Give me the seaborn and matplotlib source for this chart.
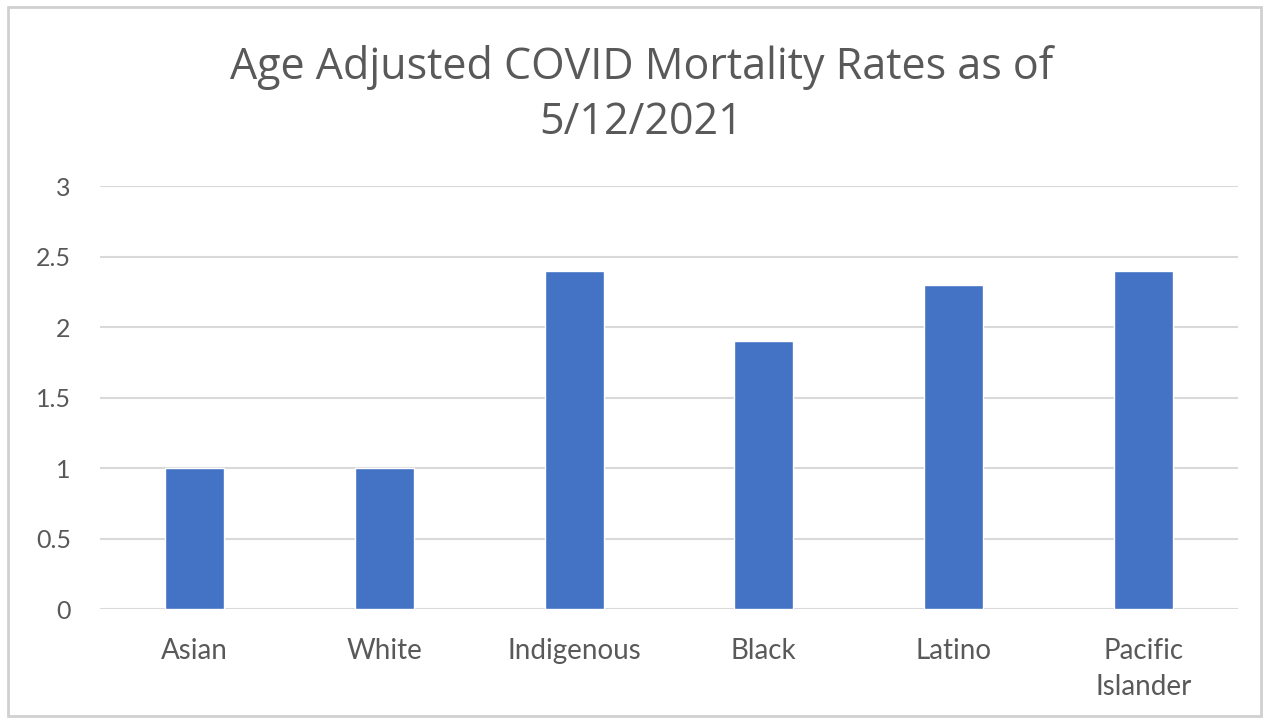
import matplotlib
matplotlib.use("Agg")
import matplotlib.pyplot as plt
import seaborn as sns
import pandas as pd
from matplotlib.patches import Rectangle

categories = ["Asian", "White", "Indigenous", "Black", "Latino", "Pacific\nIslander"]
rates = [1.0, 1.0, 2.4, 1.9, 2.3, 2.4]
yticks = [0, 0.5, 1, 1.5, 2, 2.5, 3]
ytick_labels = ["0", "0.5", "1", "1.5", "2", "2.5", "3"]
title = "Age Adjusted COVID Mortality Rates as of\n5/12/2021"

sns.set_theme(style="white")
plt.rcParams['font.family'] = ['Lato', 'DejaVu Sans']

df = pd.DataFrame({"group": categories, "rate": rates})

fig = plt.figure(figsize=(12.65, 7.21), dpi=100)
ax = fig.add_axes([0.079, 0.1553, 0.8997, 0.5867])

sns.barplot(data=df, x="group", y="rate", color="#4472C4", width=0.31,
            saturation=1, ax=ax, zorder=3)

ax.set_ylim(0, 3)
ax.set_xlim(-0.5, len(categories) - 0.5)
ax.set_yticks(yticks)
ax.set_yticklabels(ytick_labels)
ax.yaxis.grid(True, color="#d9d9d9", linewidth=1.5, zorder=0)
ax.set_axisbelow(True)
for s in ax.spines.values():
    s.set_visible(False)
ax.set_xlabel("")
ax.set_ylabel("")
ax.tick_params(axis="both", length=0, colors="#595959")
ax.tick_params(axis="y", pad=21, labelsize=18)
ax.tick_params(axis="x", pad=21, labelsize=20)
for lbl in ax.get_xticklabels():
    lbl.set_linespacing(1.45)

fig.text(0.507, 0.868, title, ha="center", va="center", fontsize=31,
         color="#595959", linespacing=1.3, family=["Open Sans", "DejaVu Sans"])

fig.patches.append(Rectangle((0.006, 0.007), 0.991, 0.983, transform=fig.transFigure,
                             fill=False, edgecolor="#d0d0d0", linewidth=2))

fig.savefig("out.png", dpi=100)
